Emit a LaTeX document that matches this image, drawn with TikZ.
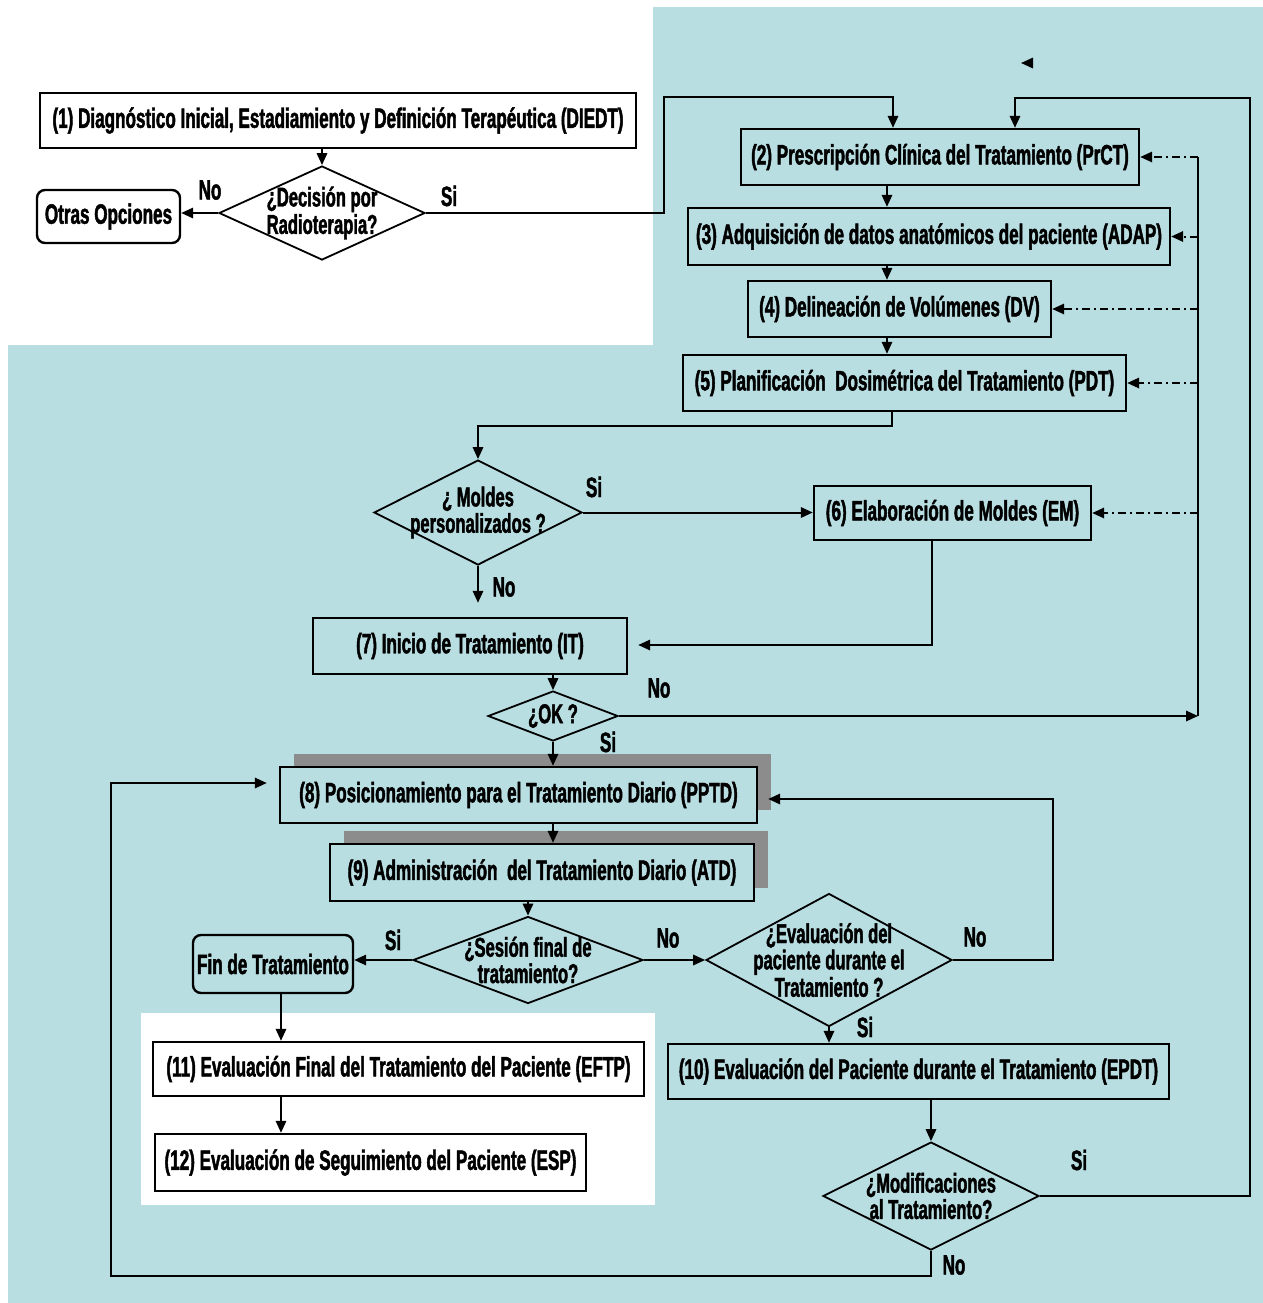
\documentclass[tikz,border=0pt]{standalone}
\usepackage{fontspec}
\setmainfont{Liberation Sans}[FakeStretch=0.61, BoldFeatures={FakeBold=1.6}]
\usetikzlibrary{arrows.meta,shapes.geometric,shadows}
\definecolor{bgc}{RGB}{185,222,226}
\begin{document}
\begin{tikzpicture}[x=0.5pt,y=-0.5pt,
  wh/.style 2 args={minimum width=#1*0.5pt, minimum height=#2*0.5pt},
  box/.style={draw, line width=1.2pt, inner sep=0pt, align=center,
    font=\bfseries\fontsize{14}{14}\selectfont},
  rbox/.style={box, rounded corners=4pt},
  shbox/.style={box, fill=bgc, drop shadow={shadow xshift=7pt, shadow yshift=6.5pt, fill=black!45, opacity=1}},
  dia/.style={draw, diamond, line width=0.9pt, inner sep=0pt},
  dtext/.style={align=center, inner sep=0pt, font=\bfseries\fontsize{13.6}{11.8}\selectfont},
  lbl/.style={inner sep=0pt, font=\bfseries\fontsize{14}{14}\selectfont},
  arr/.style={line width=1pt, -{Triangle[length=6pt,width=5.2pt]}},
  ln/.style={line width=1pt},
  dd/.style={line width=1pt, dash pattern=on 4pt off 2pt on 1pt off 2pt}
]
\useasboundingbox (0,0) rectangle (1263,1303);
% background
\fill[white] (0,0) rectangle (1263,1303);
\fill[bgc] (653,7) -- (1263,7) -- (1263,1303) -- (8,1303) -- (8,345) -- (653,345) -- cycle;
\fill[white] (141,1013) rectangle (655,1205);

% boxes
\node[box, wh={596}{55}] (b1) at (338,120.5) {(1) Diagnóstico Inicial, Estadiamiento y Definición Terapéutica (DIEDT)};
\node[rbox, wh={143}{53}] (otras) at (108.5,216.5) {Otras Opciones};
\node[box, wh={398}{56}] (b2) at (940,157) {(2) Prescripción Clínica del Tratamiento (PrCT)};
\node[box, wh={482}{57}] (b3) at (929,236.5) {(3) Adquisición de datos anatómicos del paciente (ADAP)};
\node[box, wh={303}{56}] (b4) at (899.5,309) {(4) Delineación de Volúmenes (DV)};
\node[box, wh={443}{56}] (b5) at (904.5,383) {(5) Planificación\ \ Dosimétrica del Tratamiento (PDT)};
\node[box, wh={277}{54}] (b6) at (952.5,513) {(6) Elaboración de Moldes (EM)};
\node[box, wh={314}{56}] (b7) at (470,646) {(7) Inicio de Tratamiento (IT)};
\node[shbox, wh={477}{56}] (b8) at (518.5,795) {(8) Posicionamiento para el Tratamiento Diario (PPTD)};
\node[shbox, wh={424}{57}] (b9) at (542,872.5) {(9) Administración\ \ del Tratamiento Diario (ATD)};
\node[rbox, wh={160}{58}] (fin) at (273,964) {Fin de Tratamiento};
\node[box, wh={501}{55}] (b10) at (918.5,1071.5) {(10) Evaluación del Paciente durante el Tratamiento (EPDT)};
\node[box, wh={491}{54}] (b11) at (398.5,1069) {(11) Evaluación Final del Tratamiento del Paciente (EFTP)};
\node[box, wh={431}{57}] (b12) at (370.5,1162.5) {(12) Evaluación de Seguimiento del Paciente (ESP)};

% diamonds
\node[dia, wh={206}{94}] (d1) at (322,213) {};
\node[dtext] (t1) at (d1) {¿Decisión por\\Radioterapia?};
\node[dia, wh={208}{105}] (dM) at (478,512.5) {};
\node[dtext] (tM) at (dM) {¿ Moldes\\personalizados ?};
\node[dia, wh={130}{50}] (dOK) at (553,716) {};
\node[dtext] (tOK) at (dOK) {¿OK ?};
\node[dia, wh={230}{87}] (dS) at (528,960) {};
\node[dtext] (tS) at (dS) {¿Sesión final de\\tratamiento?};
\node[dia, wh={246}{133}] (dE) at (829,960) {};
\node[dtext] (tE) at (dE) {¿Evaluación del\\paciente durante el\\Tratamiento ?};
\node[dia, wh={216}{108}] (dMod) at (931,1196) {};
\node[dtext] (tMod) at (dMod) {¿Modificaciones\\al Tratamiento?};

% labels
\node[lbl] (l1) at (210,190) {No};
\node[lbl] (l2) at (449,196) {Si};
\node[lbl] (l3) at (594,487) {Si};
\node[lbl] (l4) at (504,587) {No};
\node[lbl] (l5) at (659,688) {No};
\node[lbl] (l6) at (608,742) {Si};
\node[lbl] (l7) at (393,940) {Si};
\node[lbl] (l8) at (668,938) {No};
\node[lbl] (l9) at (975,937) {No};
\node[lbl] (l10) at (865,1027) {Si};
\node[lbl] (l11) at (1079,1160) {Si};
\node[lbl] (l12) at (954,1265) {No};

% helper coordinates
\coordinate (jA) at (664,97);
\coordinate (cB2a) at (893,0);
\coordinate (jB) at (1250,98);
\coordinate (cB2b) at (1015,0);
\coordinate (cA) at (887,0);
\coordinate (vT) at (1198,157);
\coordinate (vB) at (1198,716);
\coordinate (jC) at (892,426);
\coordinate (jD) at (932,645);
\coordinate (jE) at (1053,799);
\coordinate (jF) at (111,1276);
\coordinate (jG) at (111,783);
\coordinate (cF) at (281,0);
\coordinate (s1) at (1031,63);
\coordinate (s2) at (1021,63);

% connectors
\draw[arr] (b1.south -| d1.north) -- (d1.north);
\draw[arr] (d1.west) -- (d1.west -| otras.east);
\draw[arr] (d1.east) -- (d1.east -| jA) -- (jA) -- (jA -| cB2a) -- (b2.north -| cB2a);
\draw[arr] (dMod.east) -- (dMod.east -| jB) -- (jB) -- (jB -| cB2b) -- (b2.north -| cB2b);
\draw[arr] (b2.south -| cA) -- (b3.north -| cA);
\draw[arr] (b3.south -| cA) -- (b4.north -| cA);
\draw[arr] (b4.south -| cA) -- (b5.north -| cA);
\draw[ln] (b2.east -| vT) -- (vB);
\draw[dd, arr] (b2.east -| vT) -- (b2.east);
\draw[dd, arr] (b3.east -| vT) -- (b3.east);
\draw[dd, arr] (b4.east -| vT) -- (b4.east);
\draw[dd, arr] (b5.east -| vT) -- (b5.east);
\draw[dd, arr] (b6.east -| vT) -- (b6.east);
\draw[arr] (dOK.east) -- (vB);
\draw[arr] (b5.south -| jC) -- (jC) -- (jC -| dM.north) -- (dM.north);
\draw[arr] (dM.east) -- (dM.east -| b6.west);
\draw[arr, shorten >=7pt] (dM.south) -- (dM.south |- b7.north);
\draw[arr, shorten >=5pt] (b6.south -| jD) -- (jD) -- (jD -| b7.east);
\draw[arr] (b7.south -| dOK.north) -- (dOK.north);
\draw[arr] (dOK.south) -- (dOK.south |- b8.north);
\draw[arr] (b8.south -| dOK.south) -- (b9.north -| dOK.south);
\draw[arr] (b9.south -| dS.north) -- (dS.north);
\draw[arr] (dS.west) -- (dS.west -| fin.east);
\draw[arr] (dS.east) -- (dE.west);
\draw[arr, shorten >=5pt] (dE.east) -| (jE) -- (jE -| b8.east);
\draw[arr] (dE.south) -- (dE.south |- b10.north);
\draw[arr] (b10.south -| dMod.north) -- (dMod.north);
\draw[arr, shorten >=6pt] (dMod.south) -- (dMod.south |- jF) -- (jF) -- (jG) -- (jG -| b8.west);
\draw[arr] (fin.south -| cF) -- (b11.north -| cF);
\draw[arr] (b11.south -| cF) -- (b12.north -| cF);
\draw[arr] (s1) -- (s2);
\end{tikzpicture}
\end{document}
